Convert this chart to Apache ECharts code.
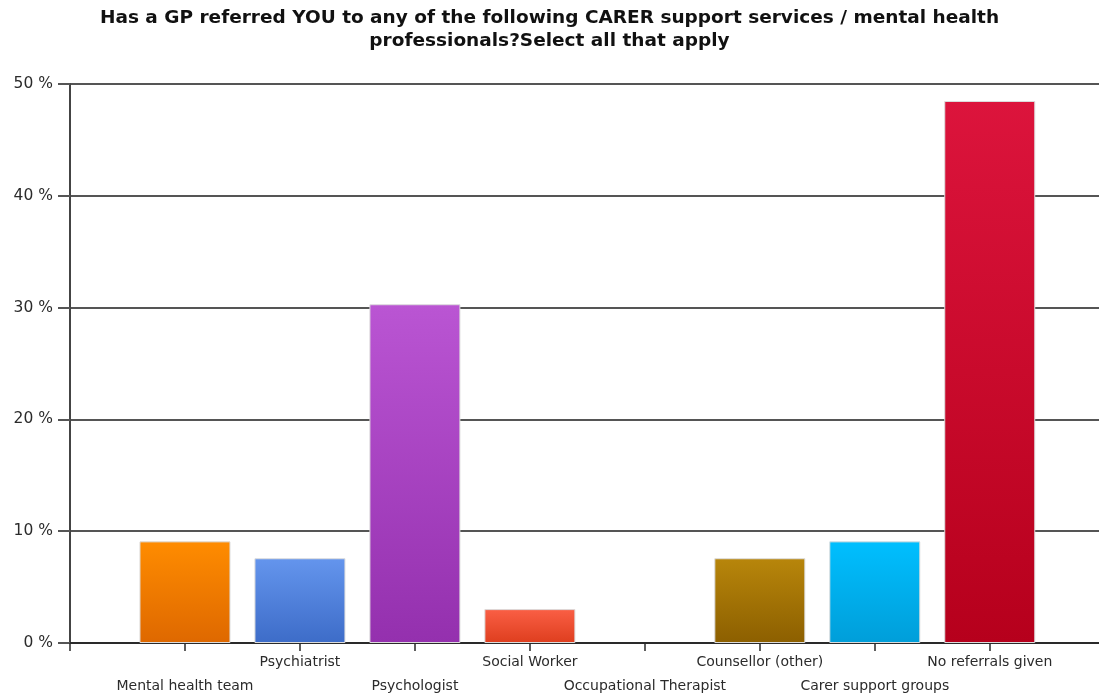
<!DOCTYPE html>
<html>
<head>
<meta charset="utf-8">
<script src="https://cdn.jsdelivr.net/npm/echarts@6/dist/echarts.min.js"></script>
<style>
  html, body { margin: 0; padding: 0; background: #ffffff; }
  #chart { width: 1099px; height: 695px; }
</style>
</head>
<body>
<div id="chart"></div>
<script>
// Survey answers (share of respondents, %)
const categories = [
  'Mental health team',
  'Psychiatrist',
  'Psychologist',
  'Social Worker',
  'Occupational Therapist',
  'Counsellor (other)',
  'Carer support groups',
  'No referrals given'
];
const percentages = [9.09, 7.58, 30.30, 3.03, 0, 7.58, 9.09, 48.48];
const topColors    = ['#ff8c00', '#6495ed', '#ba55d3', '#fa5f45', '#c0c0c0', '#b8860b', '#00bfff', '#dc143c'];
const bottomColors = ['#de6800', '#3d6cc8', '#9430ae', '#de3e1e', '#a0a0a0', '#8c5f00', '#009ed9', '#b6001c'];
const yTicks = [0, 10, 20, 30, 40, 50];

const chart = echarts.init(document.getElementById('chart'), null, { renderer: 'canvas' });

const barData = categories.map((name, i) => ({
  name: name,
  value: [i, percentages[i]],
  itemStyle: {
    color: new echarts.graphic.LinearGradient(0, 0, 0, 1, [
      { offset: 0, color: topColors[i] },
      { offset: 1, color: bottomColors[i] }
    ]),
    borderColor: '#dcdcdc',
    borderWidth: percentages[i] > 0 ? 1 : 0
  }
}));

const tickPositions = [-1].concat(categories.map((_, i) => i));

chart.setOption({
  animation: false,
  backgroundColor: '#ffffff',
  title: {
    text: 'Has a GP referred YOU to any of the following CARER support services / mental health\nprofessionals?Select all that apply',
    left: 'center',
    top: 2,
    textStyle: {
      fontFamily: 'DejaVu Sans',
      fontWeight: 'bold',
      fontSize: 18.5,
      lineHeight: 23,
      color: '#111111'
    }
  },
  grid: {
    left: 70,
    right: 0,
    top: 84,
    bottom: 52,
    containLabel: false,
    outerBoundsMode: 'none'
  },
  xAxis: {
    type: 'value',
    min: -1,
    max: 7.95,
    interval: 1,
    splitLine: { show: false },
    axisLine: { show: true, onZero: false, lineStyle: { color: '#2a2a2a', width: 2 } },
    axisTick: {
      show: true,
      length: 8,
      customValues: tickPositions,
      lineStyle: { color: '#2a2a2a', width: 1.5 }
    },
    axisLabel: {
      show: true,
      margin: 12,
      customValues: categories.map((_, i) => i),
      fontFamily: 'DejaVu Sans',
      fontSize: 14,
      color: '#2b2b2b',
      formatter: function (v) {
        const i = Math.round(v);
        if (i < 0 || i >= categories.length) return '';
        return (i % 2 === 1 ? '{hi|' : '{lo|') + categories[i] + '}';
      },
      rich: {
        hi: { fontFamily: 'DejaVu Sans', fontSize: 14, color: '#2b2b2b', padding: [0, 0, 0, 0] },
        lo: { fontFamily: 'DejaVu Sans', fontSize: 14, color: '#2b2b2b', padding: [24, 0, 0, 0] }
      }
    }
  },
  yAxis: {
    type: 'value',
    min: yTicks[0],
    max: yTicks[yTicks.length - 1],
    interval: 10,
    axisLine: { show: true, onZero: false, lineStyle: { color: '#444444', width: 2 } },
    axisTick: { show: true, length: 12, lineStyle: { color: '#555555', width: 2 } },
    splitLine: { show: true, lineStyle: { color: '#555555', width: 2 } },
    axisLabel: {
      margin: 17,
      fontFamily: 'DejaVu Sans',
      fontSize: 15.5,
      color: '#2b2b2b',
      formatter: '{value} %'
    }
  },
  series: [{
    type: 'bar',
    data: barData,
    barWidth: 91,
    encode: { x: 0, y: 1 }
  }]
});
</script>
</body>
</html>
